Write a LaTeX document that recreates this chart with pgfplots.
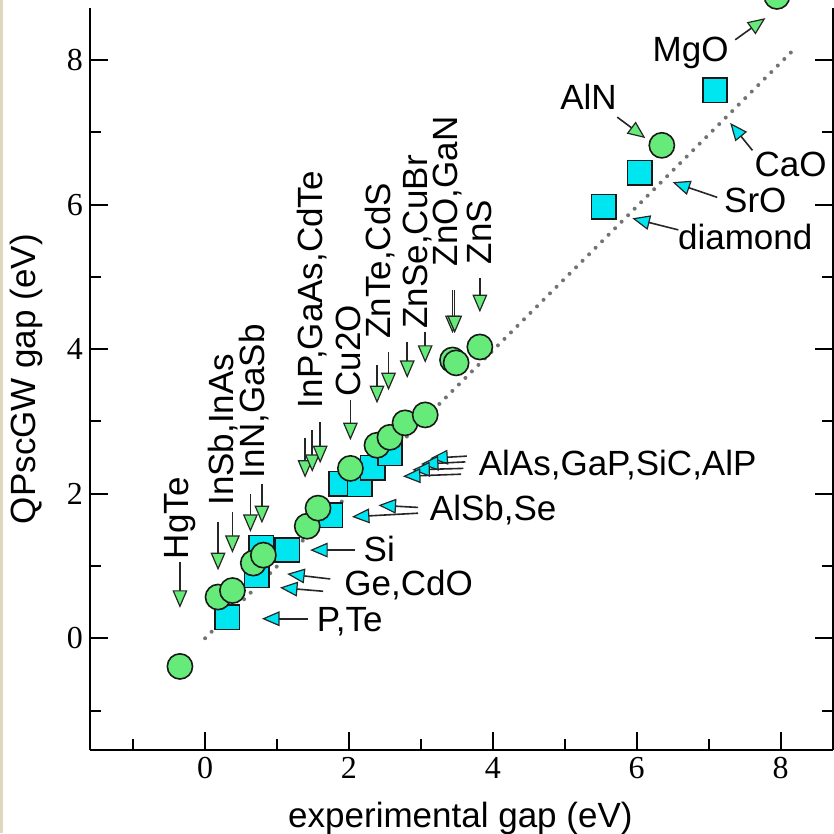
\documentclass[border=0pt]{standalone}
\usepackage{fontspec}
\setmainfont{Liberation Sans}
\newfontfamily\seriffont{Liberation Serif}
\usepackage{pgfplots}
\pgfplotsset{compat=1.18}
\usetikzlibrary{arrows.meta}
\definecolor{cgreen}{RGB}{102,235,122}
\definecolor{ccyan}{RGB}{0,230,240}
\definecolor{beige}{RGB}{225,214,190}
\definecolor{dotgray}{RGB}{115,115,115}
\tikzset{
  ga/.style={draw=black!85, line width=0.8pt, line cap=butt,
    -{Triangle[length=8.8pt,width=7.4pt,fill=cgreen,line width=0.6pt]}},
  ca/.style={draw=black!85, line width=0.8pt, line cap=butt,
    -{Triangle[length=8.8pt,width=7.4pt,fill=ccyan,line width=0.6pt]}},
  lab/.style={font=\fontsize{17.5}{18}\selectfont, inner sep=0pt},
  vlab/.style={lab, rotate=90, anchor=west},
  hlab/.style={lab, anchor=west},
}
\pgfplotstableread{
x y
0.31 0.29
0.72 0.87
0.78 1.25
1.14 1.22
1.74 1.70
1.89 2.14
2.15 2.13
2.33 2.36
2.57 2.56
5.54 5.97
6.04 6.44
7.09 7.58
}\squares
\pgfplotstableread{
x y
-0.35 -0.39
0.18 0.57
0.38 0.66
0.67 1.04
0.81 1.15
1.42 1.55
1.57 1.80
2.02 2.35
2.39 2.67
2.57 2.78
2.78 2.98
3.06 3.09
3.44 3.85
3.49 3.81
3.82 4.03
6.35 6.82
7.95 8.88
}\circles
\begin{document}
\begin{tikzpicture}
\begin{axis}[
  x=35.95pt, y=36.125pt,
  xmin=-1.6, xmax=8.73, ymin=-1.55, ymax=8.72,
  axis x line=bottom, axis y line=box,
  axis line style={-, line width=1.1pt},
  clip=false,
  xtick={0,2,4,6,8}, minor xtick={-1,1,3,5,7},
  ytick={0,2,4,6,8}, minor ytick={-1,1,3,5,7},
  tick align=inside,
  major tick length=9pt, minor tick length=5.5pt,
  tick style={black, line width=1pt},
  ticklabel style={font=\seriffont\fontsize{16}{16}\selectfont},
  /pgf/number format/assume math mode=true,
]
\coordinate (SW) at (rel axis cs:0,0);
\coordinate (NE) at (rel axis cs:1,1);
\addplot[dotgray, line width=2pt, line cap=round, dash pattern=on 0pt off 4.6pt] coordinates {(0,0) (8.22,8.18)};
\addplot[only marks, mark=square*, mark size=6.1pt, mark options={fill=ccyan, draw=black!90, line width=0.8pt}] table {\squares};
\addplot[only marks, mark=*, mark size=6.3pt, mark options={fill=cgreen, draw=black!90, line width=0.8pt}] table {\circles};
% vertical annotations
\draw[ga] (-0.35,1.05) -- (-0.35,0.42);
\node[vlab] at (-0.35,1.09) {HgTe};
\draw[ga] (0.18,1.61) -- (0.18,0.94);
\draw[ga] (0.38,1.74) -- (0.38,1.18);
\node[vlab] at (0.25,1.83) {InSb,InAs};
\draw[ga] (0.63,1.99) -- (0.63,1.47);
\draw[ga] (0.79,2.13) -- (0.79,1.59);
\node[vlab] at (0.68,2.21) {InN,GaSb};
\draw[ga] (1.39,2.77) -- (1.39,2.22);
\draw[ga] (1.49,2.88) -- (1.49,2.30);
\draw[ga] (1.60,2.99) -- (1.60,2.42);
\node[vlab] at (1.49,3.18) {InP,GaAs,CdTe};
\draw[ga] (2.02,3.29) -- (2.02,2.74);
\node[vlab] at (1.99,3.34) {Cu2O};
\draw[ga] (2.39,3.78) -- (2.39,3.25);
\draw[ga] (2.55,3.96) -- (2.55,3.43);
\node[vlab] at (2.43,4.14) {ZnTe,CdS};
\draw[ga] (2.81,4.10) -- (2.81,3.60);
\draw[ga] (3.06,4.24) -- (3.06,3.81);
\node[vlab] at (2.95,4.28) {ZnSe,CuBr};
\draw[ga] (3.44,4.82) -- (3.44,4.22);
\draw[ga] (3.47,4.82) -- (3.47,4.22);
\node[vlab] at (3.37,5.14) {ZnO,GaN};
\draw[ga] (3.82,4.98) -- (3.82,4.51);
\node[vlab] at (3.82,5.17) {ZnS};
% horizontal annotations
\draw[ca] (3.64,2.52) -- (3.13,2.49);
\draw[ca] (3.62,2.44) -- (3.00,2.41);
\draw[ca] (3.59,2.35) -- (2.88,2.33);
\draw[ca] (3.56,2.27) -- (2.75,2.24);
\node[hlab] at (3.80,2.39) {AlAs,GaP,SiC,AlP};
\draw[ca] (2.96,1.81) -- (2.41,1.84);
\draw[ca] (2.96,1.73) -- (2.04,1.68);
\node[hlab] at (3.12,1.77) {AlSb,Se};
\draw[ca] (2.09,1.22) -- (1.46,1.22);
\node[hlab] at (2.20,1.24) {Si};
\draw[ca] (1.74,0.82) -- (1.14,0.89);
\draw[ca] (1.64,0.65) -- (1.04,0.70);
\node[hlab] at (1.93,0.74) {Ge,CdO};
\draw[ca] (1.43,0.27) -- (0.79,0.27);
\node[hlab] at (1.55,0.23) {P,Te};
% upper right
\draw[ga] (7.37,8.28) -- (7.79,8.58);
\node[lab] at (6.75,8.10) {MgO};
\draw[ga] (5.73,7.21) -- (6.12,6.92);
\node[lab] at (5.33,7.49) {AlN};
\draw[ca] (7.61,6.75) -- (7.30,7.13);
\node[lab] at (8.14,6.55) {CaO};
\draw[ca] (7.12,6.10) -- (6.50,6.31);
\node[lab] at (7.65,6.06) {SrO};
\draw[ca] (6.58,5.65) -- (5.94,5.81);
\node[lab] at (7.51,5.55) {diamond};
% axis labels
\node[lab, rotate=90] at (-2.48,3.585) {QPscGW gap (eV)};
\node[lab] at (3.55,-2.50) {experimental gap (eV)};
\end{axis}
\pgfresetboundingbox
\path ([xshift=-45pt,yshift=-41.5pt]SW) coordinate (BL) ([xshift=0.5pt,yshift=4pt]NE) coordinate (TR);
\useasboundingbox (BL) rectangle (TR);
\fill[beige] (BL) rectangle ++(1.5pt,500pt);
\end{tikzpicture}
\end{document}
